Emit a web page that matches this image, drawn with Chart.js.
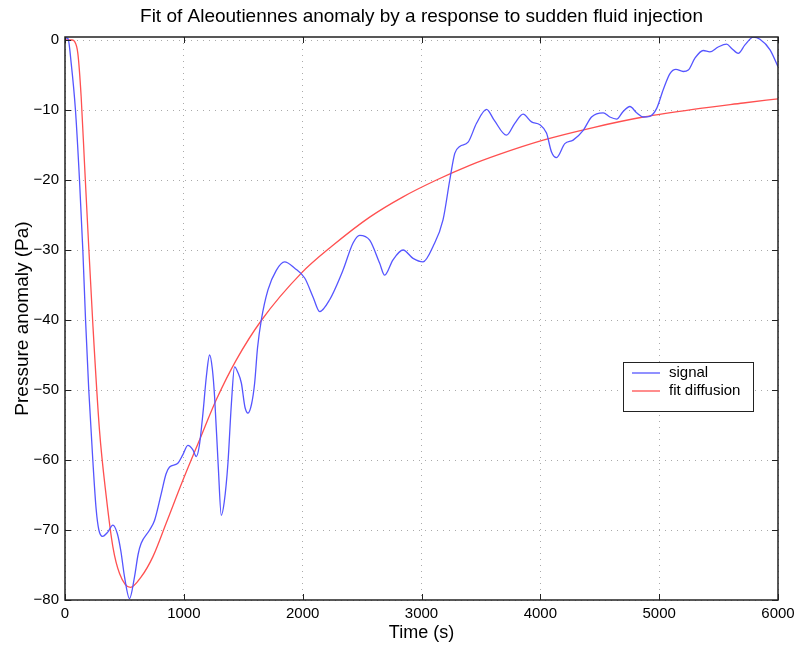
<!DOCTYPE html>
<html>
<head>
<meta charset="utf-8">
<script src="https://cdn.jsdelivr.net/npm/chart.js@4.4.1/dist/chart.umd.min.js"></script>
<style>
  html, body { margin: 0; padding: 0; background: #fff; }
</style>
</head>
<body>
<canvas id="chart" width="797" height="645"></canvas>
<script>
// signal (time in s, pressure in Pa)
const signalT = [0, 25, 52, 88, 122, 150, 173, 200, 234, 262, 285, 316, 360, 403, 440, 470, 501, 543, 585, 615,
  641, 712, 754, 810, 850, 880, 947, 990, 1034, 1075, 1105, 1130, 1161, 1190, 1217, 1240, 1259, 1290, 1315, 1340,
  1371, 1400, 1427, 1455, 1484, 1515, 1540, 1570, 1596, 1620, 1652, 1708, 1778, 1848, 1933, 2017, 2087, 2143, 2227,
  2339, 2424, 2480, 2564, 2648, 2690, 2760, 2845, 2929, 3013, 3097, 3181, 3238, 3280, 3322, 3392, 3463, 3547, 3610,
  3715, 3785, 3855, 3926, 3996, 4052, 4094, 4136, 4206, 4276, 4361, 4431, 4529, 4585, 4642, 4697, 4754, 4810, 4866,
  4922, 4978, 5034, 5091, 5141, 5203, 5245, 5301, 5371, 5427, 5497, 5568, 5610, 5666, 5722, 5792, 5848, 5933, 6000];
const signalP = [0.3, 0.2, -3.3, -10, -20, -30, -40, -50, -60, -67, -70, -70.9, -70.3, -69.3, -70.5, -73, -76.7, -79.8, -76.7, -73.5,
  -71.9, -70, -68.6, -64.8, -62, -61, -60.5, -59.3, -57.9, -58.5, -59.5, -58, -53.3, -48, -45, -47, -51, -61, -67.9, -66,
  -60.5, -52, -46.7, -47.5, -49, -52.5, -53.3, -52, -49, -44, -40, -35.7, -32.9, -31.7, -32.6, -34, -36.7, -38.8, -37.1,
  -32.9, -29, -27.9, -28.6, -31.9, -33.6, -31.4, -30, -31.2, -31.7, -29.5, -25.7, -20, -16.2, -15.2, -14.6, -11.9, -9.9, -11.4,
  -13.6, -11.9, -10.6, -11.7, -12.1, -13.3, -16, -16.8, -14.8, -14.3, -12.9, -11, -10.4, -11, -11.3, -10.2, -9.5, -10.4, -11,
  -10.9, -9.8, -7.1, -4.8, -4.2, -4.5, -4.3, -2.6, -1.5, -1.7, -1, -0.6, -1.2, -1.9, -0.7, 0.4, 0.1, -1.4, -3.8];

// fitted diffusion response
const fitT = [0, 60, 80, 108, 136, 164, 192, 234, 290, 347, 403, 459, 550, 641, 740, 852, 992, 1133, 1273,
  1442, 1655, 1989, 2250, 2564, 2845, 3126, 3406, 3659, 4024, 4445, 4866, 5287, 5708, 6000];
const fitP = [0, 0, -0.2, -1.9, -8.1, -17.6, -27, -40.5, -55.7, -65.2, -72.4, -76.2, -78.2, -76.7, -73.8, -69, -62.9, -57.1, -51.4,
  -45.7, -40, -33.3, -29.4, -25.3, -22.4, -20, -17.9, -16.3, -14.3, -12.5, -11, -9.9, -9, -8.4];

const xTicks = [0, 1000, 2000, 3000, 4000, 5000, 6000];
const yTicks = [-80, -70, -60, -50, -40, -30, -20, -10, 0];

const FONT = "'Liberation Sans', Arial, Helvetica, sans-serif";
Chart.defaults.font.family = FONT;
Chart.defaults.color = "#000";

const toPoints = (ts, ps) => ts.map((t, i) => ({ x: t, y: ps[i] }));

// box, inward ticks, title and legend drawn the matlab way
const matlabFrame = {
  id: "matlabFrame",
  afterDraw(chart) {
    const { ctx, chartArea: a, scales } = chart;
    ctx.save();
    ctx.strokeStyle = "#222";
    ctx.lineWidth = 1;
    ctx.beginPath();
    xTicks.forEach((v) => {
      const px = Math.round(scales.x.getPixelForValue(v)) + 0.5;
      ctx.moveTo(px, a.bottom);
      ctx.lineTo(px, a.bottom - 6);
      ctx.moveTo(px, a.top);
      ctx.lineTo(px, a.top + 6);
    });
    yTicks.forEach((v) => {
      const py = Math.round(scales.y.getPixelForValue(v)) + 0.5;
      ctx.moveTo(a.left, py);
      ctx.lineTo(a.left + 6, py);
      ctx.moveTo(a.right, py);
      ctx.lineTo(a.right - 6, py);
    });
    ctx.stroke();
    ctx.lineWidth = 1.5;
    ctx.strokeRect(a.left, a.top, a.right - a.left, a.bottom - a.top);

    // title centred on the axes
    ctx.fillStyle = "#000";
    ctx.font = "19px " + FONT;
    ctx.textAlign = "center";
    ctx.textBaseline = "middle";
    ctx.fillText("Fit of Aleoutiennes anomaly by a response to sudden fluid injection", (a.left + a.right) / 2, 17);

    // legend box
    const lx = 623, ly = 362, lw = 130, lh = 49;
    ctx.fillStyle = "#fff";
    ctx.fillRect(lx, ly, lw, lh);
    ctx.lineWidth = 1;
    ctx.strokeStyle = "#222";
    ctx.strokeRect(lx + 0.5, ly + 0.5, lw, lh);
    ctx.font = "15px " + FONT;
    ctx.textAlign = "left";
    chart.data.datasets.forEach((ds, i) => {
      const y = ly + 11 + i * 18;
      ctx.strokeStyle = ds.borderColor;
      ctx.lineWidth = 1.3;
      ctx.beginPath();
      ctx.moveTo(lx + 9, y);
      ctx.lineTo(lx + 37, y);
      ctx.stroke();
      ctx.fillStyle = "#000";
      ctx.fillText(ds.label, lx + 46, y);
    });
    ctx.restore();
  },
};

new Chart(document.getElementById("chart"), {
  type: "line",
  data: {
    datasets: [
      {
        label: "signal",
        data: toPoints(signalT, signalP),
        borderColor: "rgb(85,85,255)",
        borderWidth: 1.3,
        pointRadius: 0,
        cubicInterpolationMode: "monotone",
      },
      {
        label: "fit diffusion",
        data: toPoints(fitT, fitP),
        borderColor: "rgb(255,80,80)",
        borderWidth: 1.3,
        pointRadius: 0,
        cubicInterpolationMode: "monotone",
      },
    ],
  },
  options: {
    responsive: false,
    animation: false,
    layout: { padding: { top: 37, right: 19, left: 0, bottom: 0 } },
    plugins: {
      legend: { display: false },
      title: { display: false },
      tooltip: { enabled: false },
    },
    scales: {
      x: {
        type: "linear",
        min: 0,
        max: 6000,
        afterBuildTicks: (s) => { s.ticks = xTicks.map((v) => ({ value: v })); },
        afterFit: (s) => { s.height = 45; s.paddingLeft = 0; s.paddingRight = 0; },
        ticks: { font: { size: 15 }, padding: 5, maxRotation: 0, callback: (v) => String(v) },
        grid: { color: "#aaa", lineWidth: 1, drawTicks: false },
        border: { display: false, dash: [1, 5] },
        title: { display: true, text: "Time (s)", font: { size: 18 }, padding: { top: 0, bottom: 1 } },
      },
      y: {
        min: -80,
        max: 0.43,
        afterBuildTicks: (s) => { s.ticks = yTicks.map((v) => ({ value: v })); },
        afterFit: (s) => { s.width = 65; },
        ticks: {
          font: { size: 15 },
          padding: 6,
          callback: (v) => (v < 0 ? "\u2212" + Math.abs(v) : String(v)),
        },
        grid: { color: "#aaa", lineWidth: 1, drawTicks: false },
        border: { display: false, dash: [1, 5] },
        title: { display: true, text: "Pressure anomaly (Pa)", font: { size: 19 }, padding: { top: 11, bottom: 0 } },
      },
    },
  },
  plugins: [matlabFrame],
});
</script>
</body>
</html>
